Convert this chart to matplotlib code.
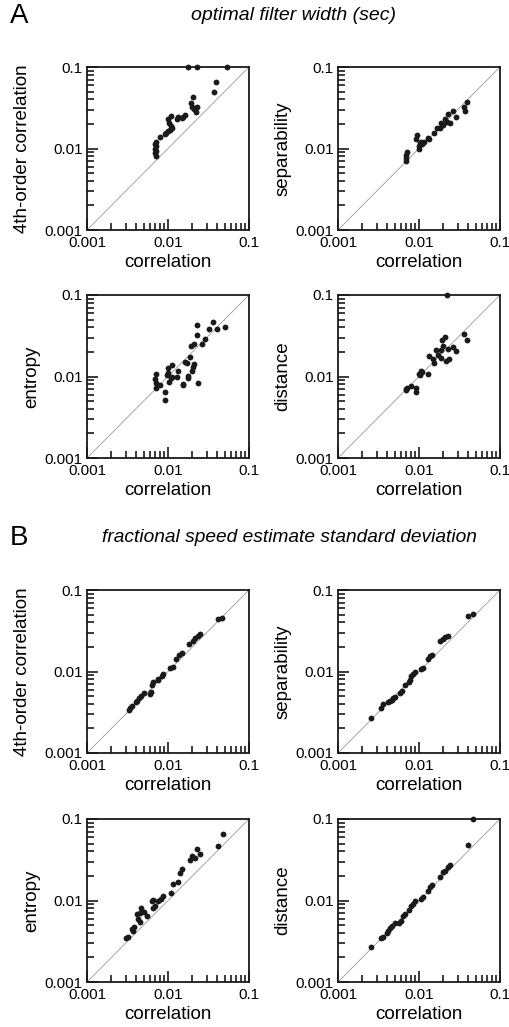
import matplotlib
matplotlib.use('Agg')
import matplotlib.pyplot as plt
from matplotlib.ticker import NullFormatter

plt.rcParams['font.family'] = ['Liberation Sans', 'DejaVu Sans']

# ---- A: optimal filter width (sec) ----
width_corr_4th = [0.0206, 0.0192, 0.0200, 0.0210, 0.0220, 0.0230, 0.0162, 0.0155, 0.0148, 0.0132, 0.0128,
                  0.0109, 0.0099, 0.0103, 0.0109, 0.0113, 0.0106, 0.0099, 0.0094, 0.0092, 0.0080, 0.00705,
                  0.0069, 0.00705, 0.0069, 0.00705, 0.0069, 0.00705, 0.0392, 0.0366, 0.0177, 0.0228, 0.0534]
width_4th = [0.0432, 0.0365, 0.0326, 0.0303, 0.0283, 0.0326, 0.0258, 0.0241, 0.0234, 0.0241, 0.0228,
             0.0250, 0.0232, 0.0207, 0.0189, 0.0177, 0.0169, 0.0166, 0.0156, 0.0151, 0.0137, 0.0121,
             0.0114, 0.0107, 0.0100, 0.0094, 0.0087, 0.0082, 0.066, 0.0489, 0.1, 0.1, 0.1]

width_corr_sep = [0.0388, 0.0362, 0.0370, 0.0266, 0.0284, 0.0230, 0.0242, 0.0210, 0.0200, 0.0187, 0.0182,
                  0.0166, 0.0155, 0.0134, 0.0128, 0.0106, 0.0110, 0.0100, 0.0094, 0.0091, 0.0100, 0.00705,
                  0.00685, 0.0070, 0.00685, 0.0103, 0.0116, 0.0220]
width_sep = [0.0376, 0.0326, 0.0291, 0.0288, 0.0246, 0.0265, 0.0207, 0.0228, 0.0194, 0.0204, 0.0177,
             0.0180, 0.0156, 0.0130, 0.0133, 0.0121, 0.0114, 0.0107, 0.0147, 0.0130, 0.0098, 0.0091,
             0.0083, 0.0076, 0.0071, 0.0118, 0.0121, 0.0211]

width_corr_ent = [0.0363, 0.0399, 0.0321, 0.0226, 0.0226, 0.0286, 0.0266, 0.0211, 0.0192, 0.0187, 0.0162,
                  0.0170, 0.0211, 0.0205, 0.0196, 0.0178, 0.0175, 0.0237, 0.0155, 0.0155, 0.0128, 0.0132,
                  0.0111, 0.0099, 0.0101, 0.0096, 0.0109, 0.0103, 0.0113, 0.0080, 0.00705, 0.0069, 0.00705,
                  0.0072, 0.0092, 0.0092, 0.0506]
width_ent = [0.0467, 0.0385, 0.0379, 0.0428, 0.0323, 0.0285, 0.0252, 0.0247, 0.0236, 0.0173, 0.0152,
             0.0147, 0.0141, 0.0131, 0.0117, 0.0101, 0.0097, 0.0084, 0.0082, 0.0078, 0.0099, 0.0117,
             0.0138, 0.0126, 0.0111, 0.0104, 0.0095, 0.0086, 0.0099, 0.0079, 0.0108, 0.0092, 0.0084,
             0.0073, 0.0065, 0.0052, 0.0404]

width_corr_dist = [0.0224, 0.0362, 0.0395, 0.0210, 0.0191, 0.0200, 0.0226, 0.0266, 0.0284, 0.0187, 0.0161,
                   0.0133, 0.0150, 0.0155, 0.0173, 0.0187, 0.0213, 0.0234, 0.0106, 0.0100, 0.0103, 0.0110,
                   0.0128, 0.0080, 0.0072, 0.00685, 0.0070, 0.0091, 0.0091]
width_dist = [0.1, 0.0329, 0.0277, 0.0305, 0.0277, 0.0234, 0.0219, 0.0230, 0.0205, 0.0209, 0.0209,
              0.0179, 0.0162, 0.0148, 0.0184, 0.0170, 0.0155, 0.0162, 0.0117, 0.0108, 0.0104, 0.0113,
              0.0108, 0.0076, 0.0073, 0.00675, 0.0070, 0.0073, 0.00645]

# ---- B: fractional speed estimate standard deviation ----
speed_corr_4th = [0.0410, 0.0468, 0.0248, 0.0232, 0.0215, 0.0205, 0.0182, 0.0148, 0.0137, 0.0124, 0.0116,
                  0.0106, 0.00875, 0.0084, 0.0076, 0.00747, 0.0066, 0.0064, 0.0062, 0.0060, 0.0051, 0.00465,
                  0.0044, 0.0042, 0.0040, 0.0036, 0.0034, 0.0033]
speed_4th = [0.0441, 0.0457, 0.0286, 0.0275, 0.0255, 0.0237, 0.0216, 0.0167, 0.0159, 0.0142, 0.0115,
             0.0111, 0.0092, 0.0089, 0.0082, 0.0079, 0.0074, 0.0068, 0.00566, 0.0053, 0.0054, 0.0050,
             0.0047, 0.0043, 0.0042, 0.0038, 0.0036, 0.0034]

speed_corr_sep = [0.0407, 0.0468, 0.0226, 0.0210, 0.0200, 0.0182, 0.0146, 0.0137, 0.0130, 0.0113, 0.0106,
                  0.0089, 0.0085, 0.0080, 0.0077, 0.0075, 0.0067, 0.0061, 0.0058, 0.0051, 0.0048, 0.0046,
                  0.0044, 0.0042, 0.0036, 0.0034, 0.00255]
speed_sep = [0.0474, 0.0508, 0.0275, 0.0262, 0.0252, 0.0239, 0.0161, 0.0153, 0.0143, 0.0110, 0.0108,
             0.0099, 0.0093, 0.0087, 0.0079, 0.0074, 0.00675, 0.0057, 0.0054, 0.0049, 0.0047, 0.0045,
             0.0043, 0.0042, 0.0040, 0.0036, 0.0027]

speed_corr_ent = [0.0482, 0.0410, 0.0248, 0.0226, 0.0215, 0.0200, 0.0187, 0.0150, 0.0141, 0.0132, 0.0116,
                  0.0109, 0.00875, 0.0082, 0.0075, 0.0066, 0.0063, 0.0069, 0.0066, 0.0051, 0.0047, 0.0045,
                  0.0041, 0.0055, 0.0043, 0.0045, 0.0038, 0.0036, 0.0037, 0.0032, 0.0030]
speed_ent = [0.0655, 0.0461, 0.0372, 0.0432, 0.0332, 0.0347, 0.0317, 0.0246, 0.0217, 0.0171, 0.0159,
             0.0122, 0.0112, 0.0105, 0.00995, 0.0102, 0.0098, 0.0085, 0.0082, 0.0073, 0.0081, 0.0070,
             0.0068, 0.0064, 0.0060, 0.0055, 0.0047, 0.0045, 0.0042, 0.0036, 0.0035]

speed_corr_dist = [0.0468, 0.0407, 0.0242, 0.0226, 0.0210, 0.0200, 0.0182, 0.0146, 0.0137, 0.0128, 0.0113,
                   0.0106, 0.0089, 0.0085, 0.0080, 0.0075, 0.0067, 0.0064, 0.0060, 0.0057, 0.0050, 0.0046,
                   0.0044, 0.0042, 0.0040, 0.0036, 0.0034, 0.00255]
speed_dist = [0.1, 0.0484, 0.0270, 0.0255, 0.0232, 0.0224, 0.0192, 0.0156, 0.0145, 0.0129, 0.0109,
              0.0105, 0.0098, 0.0090, 0.0085, 0.0077, 0.0068, 0.0065, 0.0056, 0.0053, 0.0053, 0.0048,
              0.0046, 0.0042, 0.0040, 0.0036, 0.0035, 0.0027]

tick_vals = [0.001, 0.01, 0.1]
tick_labels = ['0.001', '0.01', '0.1']
minor_vals = [m * 10.0 ** e for e in (-3, -2) for m in range(2, 10)]
x_label = 'correlation'

fig = plt.figure(figsize=(5.10, 10.27), dpi=100)

W = 162 / 510
H = 163 / 1027
cols = [87 / 510, 338 / 510]
rows = [1 - 230 / 1027, 1 - 458 / 1027, 1 - 753 / 1027, 1 - 982 / 1027]

panels = [
    (0, 0, width_corr_4th, width_4th, '4th-order correlation'),
    (0, 1, width_corr_sep, width_sep, 'separability'),
    (1, 0, width_corr_ent, width_ent, 'entropy'),
    (1, 1, width_corr_dist, width_dist, 'distance'),
    (2, 0, speed_corr_4th, speed_4th, '4th-order correlation'),
    (2, 1, speed_corr_sep, speed_sep, 'separability'),
    (3, 0, speed_corr_ent, speed_ent, 'entropy'),
    (3, 1, speed_corr_dist, speed_dist, 'distance'),
]

for r, c, xs, ys, ylab in panels:
    ax = fig.add_axes([cols[c], rows[r], W, H])
    ax.plot(tick_vals, tick_vals, color='#9a9a9a', lw=0.6, zorder=1)
    ax.plot(xs, ys, 'o', color='#1a1a1a', ms=4.2, mew=0, clip_on=False, zorder=3)
    ax.set_xscale('log')
    ax.set_yscale('log')
    ax.set_xlim(0.001, 0.1)
    ax.set_ylim(0.001, 0.1)
    ax.set_xticks(tick_vals)
    ax.set_xticklabels(tick_labels)
    ax.set_yticks(tick_vals)
    ax.set_yticklabels(tick_labels)
    ax.set_xticks(minor_vals, minor=True)
    ax.set_yticks(minor_vals, minor=True)
    ax.xaxis.set_minor_formatter(NullFormatter())
    ax.yaxis.set_minor_formatter(NullFormatter())
    ax.tick_params(which='both', direction='in', top=False, right=False, width=1.2,
                   color='#1a1a1a', labelsize=11)
    ax.tick_params(which='major', length=8)
    ax.tick_params(which='minor', length=5)
    ax.tick_params(axis='x', which='major', pad=4)
    ax.tick_params(axis='y', which='major', pad=3)
    for s in ax.spines.values():
        s.set_linewidth(1.3)
        s.set_color('#1a1a1a')
    ax.set_xlabel(x_label, fontsize=13.5, labelpad=3)
    pad = 10 if ylab.startswith('4th') else 3
    ax.set_ylabel(ylab, fontsize=13.5, labelpad=pad)

fig.text(0.02, 0.984, 'A', fontsize=20, va='center', ha='left')
fig.text(0.575, 0.985, 'optimal filter width (sec)', fontsize=14, style='italic', va='center', ha='center')
fig.text(0.02, 0.476, 'B', fontsize=20, va='center', ha='left')
fig.text(0.567, 0.477, 'fractional speed estimate standard deviation', fontsize=13.8, style='italic',
         va='center', ha='center')

fig.savefig('out.png', dpi=100)
